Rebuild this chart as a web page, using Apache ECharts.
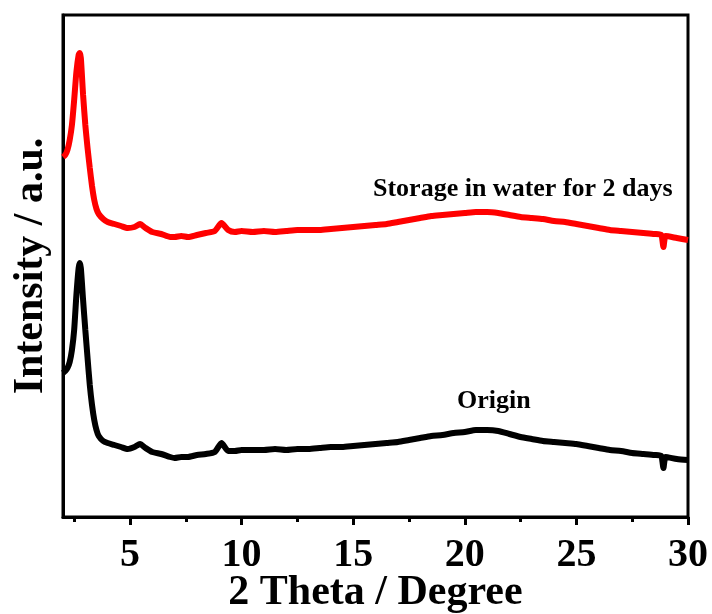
<!DOCTYPE html>
<html>
<head>
<meta charset="utf-8">
<script src="https://cdn.jsdelivr.net/npm/echarts@6/dist/echarts.min.js"></script>
<style>html,body{margin:0;padding:0;background:#fff}#c{width:712px;height:614px}</style>
</head>
<body>
<div id="c"></div>
<script>
// 2θ positions (degrees)
const theta = [2.0,2.1,2.2,2.3,2.4,2.5,2.6,2.7,2.75,2.8,2.9,3.0,3.1,3.2,3.3,3.4,3.5,3.6,3.8,4.0,4.3,4.6,4.9,5.2,5.45,5.7,6.0,6.4,6.8,7.0,7.3,7.6,8.0,8.4,8.8,9.1,9.4,9.7,10.0,10.5,11.0,11.5,12.0,12.5,13.0,13.5,14.0,14.5,15.0,15.5,16.0,16.5,17.0,17.5,18.0,18.5,19.0,19.5,20.0,20.5,21.0,21.5,22.0,22.5,23.0,23.5,24.0,24.5,25.0,25.5,26.0,26.5,27.0,27.5,28.0,28.5,28.8,28.9,29.0,29.5,30.0];
// Intensity (a.u.) – stored in water for 2 days
const storageWater = [360,362,367,377,392,417,445,462,464,459,422,392,369,349,331,317,308,303,298,295,293,291,289,290,293,289,285,283,280,280,281,280,282,284,286,294,287,285,286,285,286,285,286,287,287,287,288,289,290,291,292,293,295,297,299,301,302,303,304,305,305,304,302,300,299,298,296,295,293,291,289,287,286,285,284,283,282,270,281,279,277];
// Intensity (a.u.) – origin
const origin = [144,146,149,155,167,187,222,249,254,249,217,187,159,132,112,97,87,81,76,74,72,70,68,70,73,69,65,63,60,59,60,60,62,63,65,74,66,66,67,67,67,68,67,68,68,69,70,70,71,72,73,74,75,77,79,81,82,84,85,87,87,86,83,80,78,76,75,74,73,71,69,67,66,64,63,62,61,49,60,58,57];
const seriesNames = ['Storage in water for 2 days','Origin'];
const labelAnchors = [[22.6, 328],[21.3, 116]];
const majorTicks = [5,10,15,20,25,30];
const minorTicks = [2.5,7.5,12.5,17.5,22.5,27.5];

const chart = echarts.init(document.getElementById('c'));
const font = "'Liberation Serif','Times New Roman',serif";
const zip = a => theta.map((t,i)=>[t,a[i]]);
chart.setOption({
  animation:false,
  grid:{left:63,top:15,right:24,bottom:97,outerBoundsMode:'none',containLabel:false,show:true,borderColor:'#000',borderWidth:3,backgroundColor:'transparent'},
  xAxis:[{
    type:'value',min:2,max:30,
    name:'2 Theta / Degree',nameLocation:'middle',nameGap:55,nameMoveOverlap:false,
    nameTextStyle:{fontFamily:font,fontWeight:'bold',fontSize:42,color:'#000'},
    axisLine:{show:true,lineStyle:{color:'#000',width:3}},
    axisTick:{show:true,length:8,lineStyle:{color:'#000',width:3},customValues:majorTicks},
    axisLabel:{show:true,margin:19,fontFamily:font,fontWeight:'bold',fontSize:40,color:'#000',customValues:majorTicks},
    splitLine:{show:false}
  },{
    type:'value',min:2,max:30,position:'bottom',
    axisLine:{show:false},
    axisTick:{show:true,length:5,lineStyle:{color:'#000',width:3},customValues:minorTicks},
    axisLabel:{show:false},
    splitLine:{show:false}
  }],
  yAxis:{
    type:'value',min:0,max:502,
    name:'Intensity / a.u.',nameLocation:'middle',nameGap:11,nameMoveOverlap:false,
    nameTextStyle:{fontFamily:font,fontWeight:'bold',fontSize:42,color:'#000'},
    axisLine:{show:true,lineStyle:{color:'#000',width:3}},
    axisTick:{show:false},axisLabel:{show:false},splitLine:{show:false}
  },
  series:[
    {name:seriesNames[0],type:'line',data:zip(storageWater),showSymbol:false,smooth:0.2,
     lineStyle:{color:'#ff0000',width:6},itemStyle:{color:'#ff0000'}},
    {name:seriesNames[1],type:'line',data:zip(origin),showSymbol:false,smooth:0.2,
     lineStyle:{color:'#000',width:6},itemStyle:{color:'#000'}}
  ]
});
const p0 = chart.convertToPixel({gridIndex:0},labelAnchors[0]);
const p1 = chart.convertToPixel({gridIndex:0},labelAnchors[1]);
chart.setOption({graphic:[
  {type:'text',x:p0[0],y:p0[1],style:{text:seriesNames[0],font:"bold 26px "+font,fill:'#000',align:'center',verticalAlign:'middle'}},
  {type:'text',x:p1[0],y:p1[1],style:{text:seriesNames[1],font:"bold 26px "+font,fill:'#000',align:'center',verticalAlign:'middle'}}
]});
</script>
</body>
</html>
